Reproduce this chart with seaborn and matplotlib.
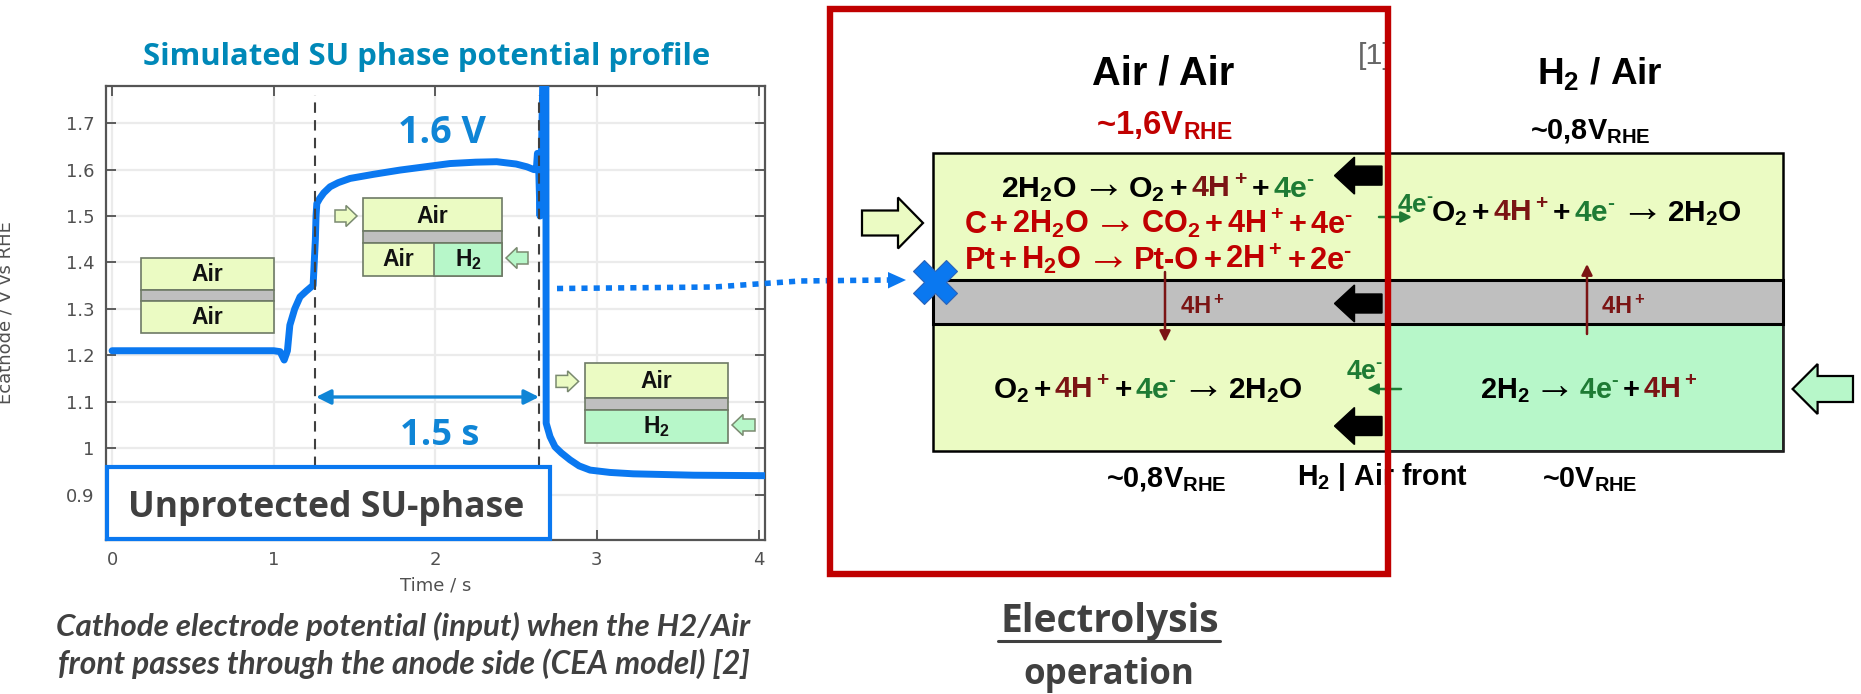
import matplotlib
matplotlib.use('Agg')
import matplotlib.pyplot as plt
from matplotlib.patches import Polygon, Rectangle
import pandas as pd
import seaborn as sns

# Curva de potencial
tiempo = [0.0, 0.5, 1.0, 1.04, 1.065, 1.085, 1.10, 1.13, 1.163, 1.20, 1.244, 1.258, 1.262, 1.267,
          1.285, 1.31, 1.349, 1.40, 1.473, 1.62, 1.782, 2.09, 2.25, 2.38, 2.5, 2.567, 2.61, 2.625, 2.632, 2.64, 2.648,
          2.655, 2.668, 2.684, 2.686, 2.71, 2.741, 2.78, 2.834, 2.89, 2.958, 3.08, 3.224, 3.6, 4.04]
potencial = [1.21, 1.21, 1.21, 1.208, 1.19, 1.21, 1.265, 1.30, 1.326, 1.338, 1.351, 1.45, 1.50, 1.527,
             1.538, 1.55, 1.563, 1.572, 1.581, 1.59, 1.599, 1.613, 1.616, 1.617, 1.612, 1.606, 1.60, 1.60, 1.635, 1.6,
             1.5, 1.6, 1.85, 1.85, 1.054, 1.025, 1.003, 0.99, 0.975, 0.962, 0.953, 0.948, 0.945, 0.942, 0.941]

xticks = [0, 1, 2, 3, 4]
yticks = [0.9, 1.0, 1.1, 1.2, 1.3, 1.4, 1.5, 1.6, 1.7]
yticklabels = ['0.9', '1', '1.1', '1.2', '1.3', '1.4', '1.5', '1.6', '1.7']
frente_t = [1.256, 2.642]

W, H = 1861, 694
AMARILLO = '#EBFBC3'
VERDE = '#B7F7C9'
GRIS = '#BFBFBF'
AZUL = '#0A78F0'
AZUL2 = '#0F85D6'
ROJO = '#C00000'
GRANATE = '#7B1414'
VERDEOSC = '#1E7B34'
OSCURO = '#404040'
E_MENOS = '$^{\u2010}$'

sns.set_style('whitegrid')
plt.rcParams['font.family'] = ['Liberation Sans', 'DejaVu Sans']
plt.rcParams['mathtext.default'] = 'regular'

fig = plt.figure(figsize=(W / 100, H / 100), dpi=100, facecolor='white')
ax = fig.add_axes([105.6 / W, 1 - 540 / H, (765 - 105.6) / W, (540 - 86) / H])
rend = fig.canvas.get_renderer()

df = pd.DataFrame({'t': tiempo, 'v': potencial})
sns.lineplot(data=df, x='t', y='v', sort=False, estimator=None, color=AZUL, linewidth=5, ax=ax, zorder=3)
ax.vlines(frente_t, 0.96, 1.76, color=OSCURO, linewidth=1.5, linestyles=(0, (5, 3.5)), zorder=4)

ax.set_xlim(-0.04, 4.04)
ax.set_ylim(0.8025, 1.78)
ax.set_xticks(xticks)
ax.set_yticks(yticks)
ax.set_yticklabels(yticklabels)
ax.grid(True, color='#EBEBEB', linewidth=1.6)
ax.tick_params(direction='in', length=7, width=1.2, color='#444444', labelcolor='#505050',
               labelsize=13, top=True, right=True, bottom=True, left=True, pad=8)
ax.set_xlabel('Time / s', fontsize=13, color='#505050', labelpad=5, family='DejaVu Sans')
ax.set_ylabel('')
for lab in ax.get_xticklabels() + ax.get_yticklabels():
    lab.set_family('DejaVu Sans')
for s in ax.spines.values():
    s.set_visible(True)
    s.set_color('#555555')
    s.set_linewidth(1.6)

# Capa superior en pixeles para los esquemas
ov = fig.add_axes([0, 0, 1, 1], facecolor='none')
ov.set_xlim(0, W)
ov.set_ylim(H, 0)
ov.axis('off')


def fit(x0, x1, base, s, size, **kw):
    t = ov.text(x0, base, s, fontsize=size, ha='left', va='baseline', **kw)
    t.set_fontsize(size * (x1 - x0) / t.get_window_extent(rend).width)
    return t


def caja(x0, y0, x1, y1, fc, ec='#6E7A66', lw=1.2, z=2):
    ov.add_patch(Rectangle((x0, y0), x1 - x0, y1 - y0, facecolor=fc, edgecolor=ec, linewidth=lw, zorder=z))


def flecha(xcola, xpunta, yc, lcab, hcab, hcuerpo, fc, ec, lw=1.0, z=5):
    d = 1 if xpunta > xcola else -1
    xb = xpunta - d * lcab
    pts = [(xcola, yc - hcuerpo / 2), (xb, yc - hcuerpo / 2), (xb, yc - hcab / 2), (xpunta, yc),
           (xb, yc + hcab / 2), (xb, yc + hcuerpo / 2), (xcola, yc + hcuerpo / 2)]
    ov.add_patch(Polygon(pts, closed=True, facecolor=fc, edgecolor=ec, linewidth=lw, zorder=z))


def tramos(x0, x1, base, runs, size, gap=0.12):
    # ajusta el tamano para que la ecuacion ocupe de x0 a x1
    arts = []
    for s, c in runs:
        es_flecha = s == '→'
        a = ov.text(0, base, s, color=c, fontsize=size * (1.45 if es_flecha else 1),
                    fontweight='normal' if es_flecha else 'bold', ha='left', va='baseline', zorder=6)
        arts.append(a)
    anchos = [a.get_window_extent(rend).width for a in arts]
    g = gap * size * 100 / 72
    k = (x1 - x0) / (sum(anchos) + g * (len(runs) - 1))
    x = x0
    for a, w in zip(arts, anchos):
        a.set_fontsize(a.get_fontsize() * k)
        a.set_x(x)
        x += (w + g) * k


def flecha_peq(xcola, xpunta, yc, fc):
    flecha(xcola, xpunta, yc, 11, 21, 12, fc, '#7A8A70', lw=1.1)


def capa(x0, x1, ys, fc_abajo):
    caja(x0, ys[0], x1, ys[1], AMARILLO)
    caja(x0, ys[1], x1, ys[2], GRIS)
    caja(x0, ys[2], x1, ys[3], fc_abajo)


def aire(xc, base, s='Air'):
    ov.text(xc, base, s, ha='center', va='baseline', fontsize=16.5, fontweight='bold', color='#111111', zorder=6)


# Panel izquierdo
ov.text(6, 313, 'Ecathode / V vs RHE', rotation=90, ha='center', va='center', fontsize=13,
        color='#505050', family='DejaVu Sans')
fit(143, 709, 65, 'Simulated SU phase potential profile', 19, family='Open Sans', fontweight='bold', color='#0088B8')
fit(398, 486, 143, '1.6 V', 25, family='Open Sans', fontweight='bold', color=AZUL2, zorder=6)
fit(399.5, 478.6, 445, '1.5 s', 25, family='Open Sans', fontweight='bold', color=AZUL2, zorder=6)

ov.annotate('', xy=(316, 397), xytext=(539, 397), zorder=6,
            arrowprops=dict(arrowstyle='<|-|>', color=AZUL2, lw=2.4, mutation_scale=22, shrinkA=0, shrinkB=0))

ov.add_patch(Rectangle((106.5, 467), 443.5, 72, facecolor='white', edgecolor=AZUL, linewidth=3, zorder=5))
fit(127.5, 524, 517, 'Unprotected SU-phase', 24, family='Open Sans', fontweight='bold', color=OSCURO, zorder=6)

capa(141, 273.5, [257.5, 290, 301, 333], AMARILLO)
aire(207, 281)
aire(207, 324)

capa(363, 501.5, [198, 231.4, 243.4, 275.6], AMARILLO)
caja(433.7, 243.4, 501.5, 275.6, VERDE)
aire(432, 223)
aire(398.5, 266)
aire(468, 266, 'H$_2$')
flecha_peq(335, 357, 216, AMARILLO)
flecha_peq(528, 506, 258, VERDE)

capa(584.7, 727.5, [363, 398, 410, 442.5], VERDE)
aire(656, 388)
aire(656, 433, 'H$_2$')
flecha_peq(556, 578.6, 381.4, AMARILLO)
flecha_peq(755, 732, 425, VERDE)

fit(56, 751, 636, 'Cathode electrode potential (input) when the H2/Air', 18, family='Lato',
    fontweight='bold', fontstyle='italic', color=OSCURO)
fit(57.6, 749, 674, 'front passes through the anode side (CEA model) [2]', 18, family='Lato',
    fontweight='bold', fontstyle='italic', color=OSCURO)

# Linea punteada hasta el esquema
ov.plot([557, 714, 800, 888], [288.5, 287, 281, 280], color=AZUL, linewidth=4,
        linestyle=(0, (1.1, 1.1)), zorder=6)
ov.add_patch(Polygon([(888, 272), (906, 280), (888, 288.5)], closed=True, facecolor=AZUL, edgecolor='none', zorder=6))

# Esquema derecho
caja(932.6, 152.6, 1783, 280, AMARILLO, ec='black', lw=1.8)
caja(932.6, 324, 1783, 451, AMARILLO, ec='black', lw=1.8)
ov.add_patch(Rectangle((1387, 325), 396, 126, facecolor=VERDE, edgecolor='none', zorder=2.5))
ov.plot([1387, 1783, 1783, 1387], [451, 451, 324, 324], color='#222222', linewidth=1.4, zorder=2.6)
caja(932.6, 280, 1783, 324, GRIS, ec='black', lw=2.2, z=3)

fit(1092, 1234, 84, 'Air / Air', 27, fontweight='bold', color='black')
fit(1537, 1663, 84, 'H$_2$ / Air', 27, fontweight='bold', color='black')
fit(1096, 1233, 135, '~1,6V$_{RHE}$', 20, fontweight='bold', color=ROJO)
fit(1530, 1651, 139, '~0,8V$_{RHE}$', 17, fontweight='bold', color='black')
fit(1106.5, 1227.6, 487, '~0,8V$_{RHE}$', 17, fontweight='bold', color='black')
fit(1297, 1468.5, 484.5, 'H$_2$ | Air front', 17, fontweight='bold', color='black', zorder=6)
fit(1542, 1638, 487, '~0V$_{RHE}$', 17, fontweight='bold', color='black')
fit(1358, 1392, 64, '[1]', 20, color='#666666')

tramos(1001, 1315.6, 197, [('2H$_2$O', 'black'), ('→', 'black'), ('O$_2$', 'black'), ('+', 'black'),
                           ('4H$^+$', GRANATE), ('+', 'black'), ('4e' + E_MENOS, VERDEOSC)], 17)
tramos(964.4, 1353.5, 233, [('C', ROJO), ('+', ROJO), ('2H$_2$O', ROJO), ('→', ROJO), ('CO$_2$', ROJO),
                            ('+', ROJO), ('4H$^+$', ROJO), ('+', ROJO), ('4e' + E_MENOS, ROJO)], 17)
tramos(964.4, 1353, 268.6, [('Pt', ROJO), ('+', ROJO), ('H$_2$O', ROJO), ('→', ROJO), ('Pt-O', ROJO),
                            ('+', ROJO), ('2H$^+$', ROJO), ('+', ROJO), ('2e' + E_MENOS, ROJO)], 17)
tramos(1431, 1742, 221, [('O$_2$', 'black'), ('+', 'black'), ('4H$^+$', GRANATE), ('+', 'black'),
                         ('4e' + E_MENOS, VERDEOSC), ('→', 'black'), ('2H$_2$O', 'black')], 17)
tramos(993, 1303, 398, [('O$_2$', 'black'), ('+', 'black'), ('4H$^+$', GRANATE), ('+', 'black'),
                        ('4e' + E_MENOS, VERDEOSC), ('→', 'black'), ('2H$_2$O', 'black')], 17)
tramos(1480, 1698, 398, [('2H$_2$', 'black'), ('→', 'black'), ('4e' + E_MENOS, VERDEOSC), ('+', 'black'),
                         ('4H$^+$', GRANATE)], 17)

fit(1397, 1434, 212, '4e' + E_MENOS, 15, fontweight='bold', color=VERDEOSC, zorder=6)
fit(1346, 1384, 379, '4e' + E_MENOS, 15, fontweight='bold', color=VERDEOSC, zorder=6)
fit(1179.6, 1225, 314, '4H$^+$', 15, fontweight='bold', color=GRANATE, zorder=6)
fit(1601, 1646, 314, '4H$^+$', 15, fontweight='bold', color=GRANATE, zorder=6)

for xy, xytext, c in [((1412, 217), (1379, 217), VERDEOSC), ((1367, 389), (1401, 389), VERDEOSC),
                      ((1165, 342), (1165, 272), GRANATE), ((1587, 264), (1587, 334), GRANATE)]:
    ov.annotate('', xy=xy, xytext=xytext, zorder=6,
                arrowprops=dict(arrowstyle='-|>', color=c, lw=1.8, mutation_scale=16, shrinkA=0, shrinkB=0))

for yc in [175.6, 303.5, 426]:
    flecha(1382, 1334.5, yc, 20, 37, 19, 'black', 'black')
flecha(862, 923, 223, 25, 51, 25, AMARILLO, 'black', lw=1.6)
flecha(1853, 1792.6, 389, 25, 50, 26, VERDE, 'black', lw=1.6)

ov.plot([935], [282], marker='X', markersize=31, color=AZUL, markeredgecolor='#2A62B8', markeredgewidth=0.8, zorder=7)

ov.add_patch(Rectangle((830, 9), 558, 565, facecolor='none', edgecolor=ROJO, linewidth=4.6, zorder=8))

fit(1000, 1219.5, 632, 'Electrolysis', 26, family='Open Sans', fontweight='bold', color=OSCURO)
ov.plot([998, 1220], [641, 641], color=OSCURO, linewidth=2.2)
fit(1023, 1194, 684, 'operation', 24, family='Open Sans', fontweight='bold', color=OSCURO)

fig.savefig('out.png', dpi=100)
